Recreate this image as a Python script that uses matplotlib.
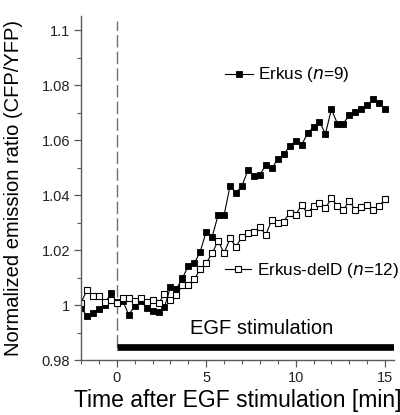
import matplotlib
matplotlib.use('Agg')
import matplotlib.pyplot as plt
from matplotlib.ticker import MultipleLocator, FuncFormatter
import numpy as np

plt.rcParams['font.family'] = ['Liberation Sans', 'DejaVu Sans']

# time after stimulation, seconds (20 s frames)
time_sec = [-120, -100, -80, -60, -40, -20, 0, 20, 40, 60, 80, 100, 120,
            140, 160, 180, 200, 220, 240, 260, 280, 300, 320, 340, 360, 380,
            400, 420, 440, 460, 480, 500, 520, 540, 560, 580, 600, 620, 640,
            660, 680, 700, 720, 740, 760, 780, 800, 820, 840, 860, 880, 900]

erkus = [0.999, 0.996, 0.997, 0.9985, 1.000, 1.0045, 1.001, 1.0015, 0.9965,
         0.9995, 1.0015, 0.999, 0.998, 0.9975, 0.9992, 1.0065, 1.0058, 1.0097,
         1.0142, 1.0151, 1.0194, 1.0267, 1.0248, 1.0327, 1.0327, 1.0433,
         1.0408, 1.0433, 1.049, 1.047, 1.0473, 1.051, 1.0497, 1.053, 1.0548,
         1.0578, 1.0596, 1.0582, 1.0624, 1.0648, 1.0667, 1.0622, 1.0712,
         1.066, 1.066, 1.0691, 1.0703, 1.0712, 1.0727, 1.0748, 1.0736, 1.0712]

erkus_deld = [1.0008, 1.0055, 1.0034, 1.0034, 1.0012, 1.0018, 1.0006, 1.0027,
              1.0027, 1.0015, 1.0024, 1.0012, 1.0018, 1.0006, 1.004, 1.002,
              1.0035, 1.0073, 1.0073, 1.0093, 1.013, 1.0153, 1.0188, 1.0234,
              1.0188, 1.0242, 1.0212, 1.0248, 1.0262, 1.0267, 1.0283, 1.0255,
              1.031, 1.0297, 1.0303, 1.0336, 1.0327, 1.0364, 1.0333, 1.036,
              1.0372, 1.0352, 1.0388, 1.036, 1.0345, 1.038, 1.0345, 1.0358,
              1.0364, 1.0345, 1.036, 1.0384]

t = np.array(time_sec) / 60.0

fig = plt.figure(figsize=(4, 4.15), dpi=100)
ax = fig.add_axes([0.2025, 0.1325, 0.7825, 0.829])

grey = '#5a5a5a'

# stimulus onset and EGF bar
ax.vlines(0, 0.9846, 1.1033, colors='#707070', linewidth=1.0, linestyles=(0, (9, 3)))
ax.hlines(0.9846, 0, 15.5, colors='black', linewidth=4.8, capstyle='butt')
ax.text(0.578, 0.093, 'EGF stimulation', transform=ax.transAxes,
        ha='center', va='center', fontsize=14.5)

l1, = ax.plot(t, erkus, color='black', linewidth=0.8, marker='s', markersize=4.5,
              markerfacecolor='black', markeredgecolor='black', markeredgewidth=0.6)
l2, = ax.plot(t, erkus_deld, color='black', linewidth=0.8, marker='s', markersize=4.5,
              markerfacecolor='white', markeredgecolor='black', markeredgewidth=0.8)

leg1 = ax.legend([l1], ['Erkus ($\\it{n}$=9)'], loc='center left',
                 bbox_to_anchor=(0.46, 0.8285), frameon=False, fontsize=12.3,
                 borderpad=0, borderaxespad=0, handlelength=1.65, handletextpad=0.3,
                 numpoints=1)
ax.add_artist(leg1)
ax.legend([l2], ['Erkus-delD ($\\it{n}$=12)'], loc='center left',
          bbox_to_anchor=(0.46, 0.2616), frameon=False, fontsize=12.3,
          borderpad=0, borderaxespad=0, handlelength=1.5, handletextpad=0.35,
          numpoints=1)

ax.set_xlim(-2, 15.5)
ax.set_ylim(0.98, 1.1051)

ax.xaxis.set_major_locator(MultipleLocator(5))
ax.xaxis.set_minor_locator(MultipleLocator(1))
ax.yaxis.set_major_locator(MultipleLocator(0.02))
ax.yaxis.set_minor_locator(MultipleLocator(0.01))
ax.yaxis.set_major_formatter(FuncFormatter(lambda v, p: '%g' % round(v, 3)))
ax.set_xticks([0, 5, 10, 15])

for s in ['top', 'right']:
    ax.spines[s].set_visible(False)
for s in ['left', 'bottom']:
    ax.spines[s].set_color(grey)
    ax.spines[s].set_linewidth(1.0)

ax.tick_params(which='major', length=5, width=0.9, color=grey, labelsize=10.5,
               labelcolor='#222222', pad=3)
ax.tick_params(which='minor', length=3, width=0.8, color=grey)

ax.set_xlabel('Time after EGF stimulation [min]', fontsize=16.5, labelpad=3)
ax.set_ylabel('Normalized emission ratio (CFP/YFP)', fontsize=14.5, labelpad=13)

fig.savefig('out.png', dpi=100)
